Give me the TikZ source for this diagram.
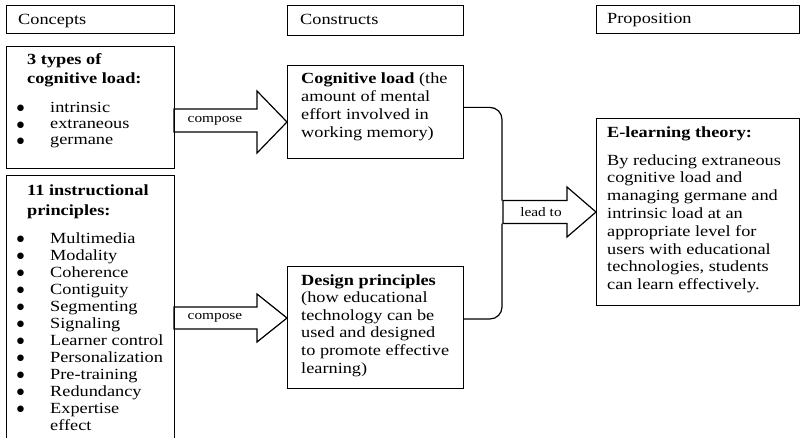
\documentclass[tikz,border=0pt]{standalone}
\usepackage{fontspec}
\setmainfont{Liberation Serif}[FakeStretch=1.18]
\newfontfamily\dvsans{DejaVu Sans}
\usetikzlibrary{calc}
\newcommand\blt{\makebox[0pt][r]{\raisebox{1.2pt}{\dvsans\fontsize{8.5}{8.5}\selectfont ●}\hspace{26pt}}}
\begin{document}
\begin{tikzpicture}[x=1pt,y=-1pt,
  box/.style={draw=black, line width=1.2pt, inner sep=0pt, anchor=north west},
  txt/.style={anchor=base west, inner sep=0pt, font=\fontsize{15.5}{17.8}\selectfont},
  lbl/.style={inner sep=0pt, font=\fontsize{13}{15}\selectfont},
  conn/.style={draw=black, line width=1.2pt},
  barrow/.style={draw=black, line width=1.2pt, line join=miter}]
\useasboundingbox (0,0) rectangle (800,437);
\clip (0,0) rectangle (800,437);

% header boxes
\node[box, minimum width=168pt, minimum height=28pt] (conc) at (6,5) {};
\node[box, minimum width=176pt, minimum height=30pt] (cons) at (287,5) {};
\node[box, minimum width=202.5pt, minimum height=28pt] (prop) at (596,5) {};
\node[txt] (concT) at (18,24) {Concepts};
\node[txt] (consT) at (300,24) {Constructs};
\node[txt] (propT) at (607,23) {Proposition};

% concept boxes
\node[box, minimum width=168pt, minimum height=122pt] (types) at (6,46) {};
\node[box, minimum width=168pt, minimum height=290pt] (instr) at (6,175) {};
\node[txt, font=\fontsize{15.5}{19}\selectfont\bfseries] (typesH) at (27,64)
  {\parbox[t]{145pt}{3 types of\\cognitive load:}};
\node[txt, font=\fontsize{15.5}{16.2}\selectfont] (typesL) at (50,112)
  {\parbox[t]{120pt}{\blt intrinsic\\\blt extraneous\\\blt germane}};
\node[txt, font=\fontsize{15.5}{20}\selectfont\bfseries] (instrH) at (27,195)
  {\parbox[t]{145pt}{11 instructional\\principles:}};
\node[txt, font=\fontsize{15.5}{17}\selectfont] (instrL) at (50,243)
  {\parbox[t]{120pt}{\blt Multimedia\\\blt Modality\\\blt Coherence\\\blt Contiguity\\\blt Segmenting\\\blt Signaling\\\blt Learner control\\\blt Personalization\\\blt Pre-training\\\blt Redundancy\\\blt Expertise\\effect}};

% construct boxes
\node[box, minimum width=176pt, minimum height=93pt] (cog) at (287,65) {};
\node[box, minimum width=176pt, minimum height=122pt] (des) at (287,266) {};
\node[txt, font=\fontsize{15.5}{18}\selectfont] (cogT) at (301,83)
  {\parbox[t]{160pt}{\textbf{Cognitive load} (the\\amount of mental\\effort involved in\\working memory)}};
\node[txt, font=\fontsize{15.5}{17.6}\selectfont] (desT) at (301,285)
  {\parbox[t]{160pt}{\textbf{Design principles}\\(how educational\\technology can be\\used and designed\\to promote effective\\learning)}};

% proposition box
\node[box, minimum width=202.5pt, minimum height=187pt] (elt) at (596,118) {};
\node[txt, font=\fontsize{15.5}{17.8}\selectfont\bfseries] (eltH) at (607,137) {E-learning theory:};
\node[txt] (eltT) at (607,165)
  {\parbox[t]{190pt}{By reducing extraneous\\cognitive load and\\managing germane and\\intrinsic load at an\\appropriate level for\\users with educational\\technologies, students\\can learn effectively.}};

% block arrows
\draw[barrow] (174,109) -- (257,109) -- (257,91) -- (287,122) -- (257,153) -- (257,132) -- (174,132) -- cycle;
\node[lbl] (comp1) at (215,121) {compose};
\draw[barrow] (174,307) -- (257,307) -- (257,294) -- (287,318) -- (257,342) -- (257,329) -- (174,329) -- cycle;
\node[lbl] (comp2) at (215,318) {compose};
\draw[barrow] (503,200.5) -- (567,200.5) -- (567,187) -- (596,212) -- (567,237) -- (567,223.5) -- (503,223.5) -- cycle;
\node[lbl] (leadL) at (541,212) {lead to};

% brace connector
\coordinate (cogR) at ($(cog.north east)!0.45!(cog.south east)$);
\coordinate (desR) at ($(des.north east)!0.43!(des.south east)$);
\coordinate (leadT) at (502,200.5);
\coordinate (leadB) at (502,223.5);
\draw[conn, rounded corners=12pt] (cogR) -- (cogR -| leadT) -- (leadT);
\draw[conn, rounded corners=12pt] (leadB) -- (leadB |- desR) -- (desR);
\end{tikzpicture}
\end{document}
